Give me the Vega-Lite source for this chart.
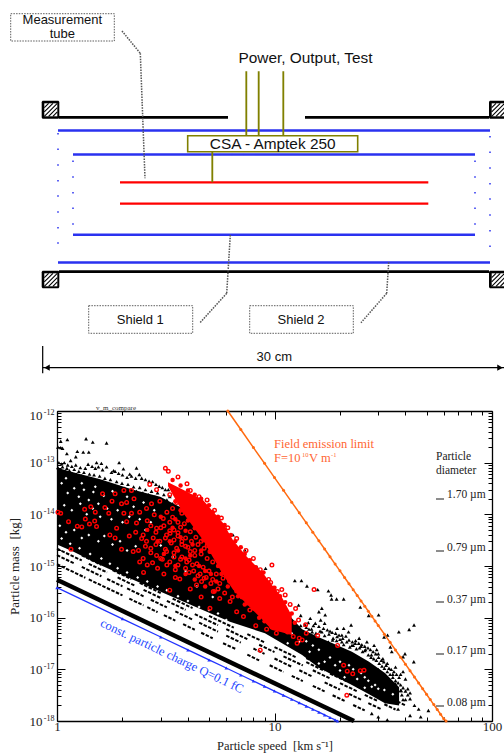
{
"$schema":"https://vega.github.io/schema/vega-lite/v6.json",
"width":504,"height":754,"padding":0,"autosize":{"type":"none"},"background":"white",
"config":{"view":{"stroke":null}},
"datasets":{
"segs":[
{"sx":10.4,"sy":76.25,"sx2":120.25,"sy2":76.25,"kind":"wall"},{"sx":170.3,"sy":76.25,"sx2":289.9,"sy2":76.25,"kind":"wall"},{"sx":10.4,"sy":176.6,"sx2":289.9,"sy2":176.6,"kind":"wall"},
{"sx":9.75,"sy":84.83,"sx2":290.55,"sy2":84.83,"kind":"shield"},{"sx":9.75,"sy":170.6,"sx2":290.55,"sy2":170.6,"kind":"shield"},{"sx":19.5,"sy":100.4,"sx2":280.8,"sy2":100.4,"kind":"shield"},{"sx":19.5,"sy":152.6,"sx2":280.8,"sy2":152.6,"kind":"shield"},
{"sx":50.05,"sy":118.5,"sx2":250.45,"sy2":118.5,"kind":"tube"},{"sx":50.05,"sy":132.4,"sx2":250.45,"sy2":132.4,"kind":"tube"},
{"sx":132.15,"sy":46.35,"sx2":132.15,"sy2":87.75,"kind":"wire"},{"sx":140.2,"sy":46.35,"sx2":140.2,"sy2":87.75,"kind":"wire"},{"sx":156.2,"sy":46.35,"sx2":156.2,"sy2":87.75,"kind":"wire"},{"sx":110.05,"sy":98.6,"sx2":110.05,"sy2":118.5,"kind":"wire"},
{"sx":51.35,"sy":20.15,"sx2":63.25,"sy2":34.65,"kind":"leader"},{"sx":63.25,"sy":34.65,"sx2":66.3,"sy2":115.9,"kind":"leader"},
{"sx":121.75,"sy":152.75,"sx2":119.4,"sy2":190.65,"kind":"leader"},{"sx":119.4,"sy":190.65,"sx2":102.05,"sy2":209.75,"kind":"leader"},
{"sx":224.7,"sy":170.5,"sx2":223.4,"sy2":190.65,"kind":"leader"},{"sx":223.4,"sy":190.65,"sx2":206.7,"sy2":209.75,"kind":"leader"},
{"sx":-0.2,"sy":224.9,"sx2":-0.2,"sy2":242.65,"kind":"dim"},{"sx":-0.2,"sy":239,"sx2":299.65,"sy2":239,"kind":"dim"},
{"sx":255.45,"sy":324.35,"sx2":260.65,"sy2":324.35,"kind":"mark"},{"sx":255.45,"sy":358.15,"sx2":260.65,"sy2":358.15,"kind":"mark"},{"sx":255.45,"sy":391.3,"sx2":260.65,"sy2":391.3,"kind":"mark"},{"sx":255.45,"sy":425.1,"sx2":260.65,"sy2":425.1,"kind":"mark"},{"sx":255.45,"sy":458.9,"sx2":260.65,"sy2":458.9,"kind":"mark"}
],
"hatch":[
{"sx":0.85,"sy":69.95,"sx2":3.65,"sy2":67.15},{"sx":0.85,"sy":72.75,"sx2":6.45,"sy2":67.15},{"sx":0.85,"sy":75.6,"sx2":9.3,"sy2":67.15},{"sx":3.65,"sy":75.6,"sx2":9.3,"sy2":69.95},{"sx":6.45,"sy":75.6,"sx2":9.3,"sy2":72.75},
{"sx":0.85,"sy":180.45,"sx2":3.65,"sy2":177.65},{"sx":0.85,"sy":183.25,"sx2":6.45,"sy2":177.65},{"sx":0.85,"sy":186.1,"sx2":9.3,"sy2":177.65},{"sx":3.65,"sy":186.1,"sx2":9.3,"sy2":180.45},{"sx":6.45,"sy":186.1,"sx2":9.3,"sy2":183.25},
{"sx":291.65,"sy":69.95,"sx2":294.45,"sy2":67.15},{"sx":291.65,"sy":72.75,"sx2":297.25,"sy2":67.15},{"sx":291.65,"sy":75.6,"sx2":300.1,"sy2":67.15},{"sx":294.45,"sy":75.6,"sx2":300.1,"sy2":69.95},{"sx":297.25,"sy":75.6,"sx2":300.1,"sy2":72.75},
{"sx":291.65,"sy":180.45,"sx2":294.45,"sy2":177.65},{"sx":291.65,"sy":183.25,"sx2":297.25,"sy2":177.65},{"sx":291.65,"sy":186.1,"sx2":300.1,"sy2":177.65},{"sx":294.45,"sy":186.1,"sx2":300.1,"sy2":180.45},{"sx":297.25,"sy":186.1,"sx2":300.1,"sy2":183.25}
],
"guard":[
{"sx":9.75,"sy":86.9},{"sx":9.75,"sy":97},{"sx":9.75,"sy":107.25},{"sx":9.75,"sy":117.45},{"sx":9.75,"sy":127.4},{"sx":9.75,"sy":137.8},{"sx":9.75,"sy":148},{"sx":9.75,"sy":157.95},
{"sx":290.55,"sy":88.85},{"sx":290.55,"sy":99},{"sx":290.55,"sy":109.2},{"sx":290.55,"sy":119.4},{"sx":290.55,"sy":129.35},{"sx":290.55,"sy":139.75},{"sx":290.55,"sy":149.95},{"sx":290.55,"sy":160.1},
{"sx":19.5,"sy":104.85},{"sx":19.5,"sy":115.05},{"sx":19.5,"sy":125.25},{"sx":19.5,"sy":135.4},{"sx":19.5,"sy":145.6},
{"sx":280.8,"sy":104.85},{"sx":280.8,"sy":115.05},{"sx":280.8,"sy":125.25},{"sx":280.8,"sy":135.4},{"sx":280.8,"sy":145.6}
],
"blackCore":[
{"v":1,"hi":8e-14,"lo":2.6e-15},{"v":1.185,"hi":6.5e-14,"lo":1.9e-15},{"v":1.58,"hi":4.8e-14,"lo":1.05e-15},{"v":2.24,"hi":3e-14,"lo":5.4e-16},{"v":2.98,"hi":2.2e-14,"lo":3.2e-16},{"v":4.09,"hi":1.1e-14,"lo":1.8e-16},{"v":6.24,"hi":3e-15,"lo":8.3e-17},{"v":9.04,"hi":3.5e-16,"lo":5e-17},{"v":13.4,"hi":6e-17,"lo":1.9e-17},{"v":16,"hi":4.2e-17,"lo":1.07e-17},{"v":22.7,"hi":2.2e-17,"lo":5e-18},{"v":27.2,"hi":1.4e-17,"lo":3.3e-18},{"v":32.2,"hi":8.5e-18,"lo":2.2e-18},{"v":37.4,"hi":4.5e-18,"lo":2e-18}
],
"redCore":[
{"v":3.24,"hi":4.2e-14,"lo":3.5e-14},{"v":3.8,"hi":3e-14,"lo":1.06e-14},{"v":4.69,"hi":1.9e-14,"lo":3.2e-15},{"v":5.8,"hi":6.8e-15,"lo":6.8e-16},{"v":6.44,"hi":3.2e-15,"lo":3.5e-16},{"v":7.48,"hi":1.5e-15,"lo":1.8e-16},{"v":8.85,"hi":7.3e-16,"lo":8.9e-17},{"v":9.73,"hi":4.3e-16,"lo":5.8e-17},{"v":10.8,"hi":2.5e-16,"lo":5.2e-17},{"v":12,"hi":1.1e-16,"lo":4.6e-17}
],
"gaps":[
{"v":1.05,"m":4e-14},{"v":1.12,"m":2.6e-14},{"v":1.2,"m":3.2e-14},{"v":1.26,"m":2.2e-14},{"v":1.33,"m":3e-14},{"v":1.4,"m":1.9e-14},{"v":1.47,"m":2.7e-14},{"v":1.55,"m":1.6e-14},{"v":1.64,"m":2.3e-14},{"v":1.08,"m":1.5e-14},{"v":1.17,"m":1.2e-14},{"v":1.28,"m":1.6e-14},{"v":1.37,"m":1e-14},{"v":1.46,"m":1.3e-14},{"v":1.58,"m":9e-15},{"v":1.7,"m":1.3e-14},{"v":1.78,"m":8e-15},{"v":1.9,"m":1.2e-14},{"v":2,"m":7e-15},{"v":2.15,"m":9e-15},{"v":2.25,"m":1.4e-14},{"v":2.4,"m":8e-15},{"v":2.55,"m":5e-15},{"v":2.7,"m":7e-15},{"v":1.03,"m":6e-15},{"v":1.1,"m":4.5e-15},{"v":1.2,"m":5e-15},{"v":1.3,"m":3.5e-15},{"v":1.4,"m":4e-15},{"v":1.55,"m":3e-15},{"v":1.65,"m":3.8e-15},{"v":1.8,"m":2.6e-15},{"v":1.95,"m":3e-15},{"v":2.1,"m":2e-15},{"v":2.3,"m":2.4e-15},{"v":1.05,"m":3.4e-15},{"v":1.15,"m":2.7e-15},{"v":1.27,"m":2.2e-15},{"v":1.42,"m":1.7e-15},{"v":1.6,"m":1.4e-15},{"v":1.75,"m":1.1e-15},{"v":1.9,"m":9e-16},{"v":2.1,"m":7.5e-16},{"v":2.35,"m":6e-16},{"v":2.6,"m":5e-16},{"v":2.9,"m":4e-16},{"v":3.2,"m":3.4e-16},{"v":3.6,"m":2.6e-16},{"v":4,"m":2.1e-16},{"v":4.5,"m":1.6e-16},{"v":5,"m":1.4e-16},{"v":5.5,"m":1.2e-16},{"v":6,"m":9e-17},{"v":3.4,"m":1.5e-15},{"v":3,"m":2.5e-15},{"v":3.9,"m":8e-16},{"v":4.4,"m":4e-16},{"v":5.2,"m":2.5e-16},
{"v":1.1,"m":5e-14},{"v":1.3,"m":4e-14},{"v":1.5,"m":3.4e-14},{"v":1.8,"m":2.8e-14},{"v":2.1,"m":2.2e-14},{"v":2.5,"m":1.7e-14},{"v":2.8,"m":1.2e-14},
{"v":10,"m":6.3e-17},{"v":12,"m":5e-17},{"v":14,"m":3.5e-17},{"v":16,"m":2.4e-17},{"v":18,"m":1.7e-17},{"v":20,"m":1.4e-17},{"v":23,"m":1e-17},{"v":26,"m":7e-18},{"v":29,"m":5e-18},{"v":32,"m":4e-18},{"v":35,"m":3.3e-18},{"v":14.5,"m":2.2e-17},{"v":17,"m":1.4e-17},{"v":20,"m":9.5e-18},{"v":24,"m":6.5e-18},{"v":28,"m":4.6e-18},{"v":15,"m":2.9e-17},{"v":19,"m":1.2e-17},{"v":22,"m":1.2e-17},{"v":25,"m":8.5e-18},{"v":27,"m":6e-18},{"v":30,"m":4.2e-18},{"v":13,"m":3.4e-17},{"v":11.5,"m":3.2e-17},{"v":16,"m":1.3e-17},{"v":21,"m":7e-18},{"v":26,"m":4.4e-18}
],
"stripes":[
{"s":"a1","v":1,"m":1.08e-15},{"s":"a1","v":1.35,"m":5.93e-16},{"s":"a2","v":1.4,"m":5.5e-16},{"s":"a2","v":2,"m":2.7e-16},{"s":"a3","v":2.15,"m":2.33e-16},{"s":"a3","v":2.5,"m":1.73e-16},{"s":"a4","v":2.6,"m":1.6e-16},{"s":"a4","v":2.9,"m":1.28e-16},{"s":"a5","v":3.1,"m":1.12e-16},{"s":"a5","v":3.5,"m":8.8e-17},{"s":"a6","v":3.8,"m":7.5e-17},{"s":"a6","v":4.3,"m":5.84e-17},{"s":"a7","v":4.6,"m":5.1e-17},{"s":"a7","v":5.2,"m":4e-17},{"s":"a8","v":5.8,"m":3.2e-17},{"s":"a8","v":6.6,"m":2.5e-17},{"s":"a9","v":7.5,"m":1.92e-17},{"s":"a9","v":8.5,"m":1.49e-17},{"s":"a10","v":9.5,"m":1.2e-17},{"s":"a10","v":11,"m":8.9e-18},{"s":"a11","v":12,"m":7.5e-18},{"s":"a11","v":13.5,"m":5.93e-18},{"s":"a12","v":15,"m":4.8e-18},{"s":"a12","v":17,"m":3.74e-18},{"s":"a13","v":18.5,"m":3.15e-18},{"s":"a13","v":21,"m":2.45e-18},{"s":"a14","v":23,"m":2.04e-18},{"s":"a14","v":26,"m":1.6e-18},
{"s":"b1","v":1,"m":1.62e-15},{"s":"b1","v":1.2,"m":1.12e-15},{"s":"b2","v":1.3,"m":9.6e-16},{"s":"b2","v":1.6,"m":6.33e-16},{"s":"b3","v":1.7,"m":5.6e-16},{"s":"b3","v":2,"m":4.05e-16},{"s":"b4","v":2.1,"m":3.68e-16},{"s":"b4","v":2.5,"m":2.59e-16},{"s":"b5","v":2.7,"m":2.22e-16},{"s":"b5","v":3.2,"m":1.58e-16},{"s":"b6","v":3.5,"m":1.32e-16},{"s":"b6","v":4.2,"m":9.2e-17},{"s":"b7","v":4.5,"m":8e-17},{"s":"b7","v":5.5,"m":5.36e-17},{"s":"b8","v":6,"m":4.5e-17},{"s":"b8","v":7,"m":3.3e-17},{"s":"b9","v":8,"m":2.53e-17},{"s":"b9","v":9,"m":1.99e-17},{"s":"b10","v":10,"m":1.62e-17},{"s":"b10","v":12,"m":1.12e-17},{"s":"b11","v":13,"m":9.6e-18},{"s":"b11","v":15,"m":7.2e-18},{"s":"b12","v":17,"m":5.6e-18},{"s":"b12","v":20,"m":4.05e-18},{"s":"b13","v":22,"m":3.35e-18},{"s":"b13","v":25,"m":2.59e-18},{"s":"b14","v":27,"m":2.22e-18},{"s":"b14","v":31,"m":1.69e-18},
{"s":"c1","v":1,"m":2.16e-15},{"s":"c1","v":1.3,"m":1.28e-15},{"s":"c2","v":1.4,"m":1.1e-15},{"s":"c2","v":1.7,"m":7.5e-16},{"s":"c3","v":1.9,"m":6e-16},{"s":"c3","v":2.3,"m":4.08e-16},{"s":"c4","v":2.5,"m":3.46e-16},{"s":"c4","v":3,"m":2.4e-16},{"s":"c5","v":3.2,"m":2.11e-16},{"s":"c5","v":3.9,"m":1.42e-16},{"s":"c6","v":4.3,"m":1.17e-16},{"s":"c6","v":5.5,"m":7.15e-17},{"s":"c7","v":6,"m":6e-17},{"s":"c7","v":7.5,"m":3.84e-17},{"s":"c8","v":8.5,"m":2.99e-17},{"s":"c8","v":10,"m":2.16e-17},{"s":"c9","v":11,"m":1.78e-17},{"s":"c9","v":13.5,"m":1.19e-17},{"s":"c10","v":15,"m":9.6e-18},{"s":"c10","v":18,"m":6.67e-18},{"s":"c11","v":20,"m":5.4e-18},{"s":"c11","v":24,"m":3.76e-18},{"s":"c12","v":26,"m":3.2e-18},{"s":"c12","v":30,"m":2.4e-18},{"s":"c13","v":32,"m":2.11e-18},{"s":"c13","v":36,"m":1.67e-18},
{"s":"d1","v":1.3,"m":1.6e-15},{"s":"d1","v":1.6,"m":1.05e-15},{"s":"d2","v":1.8,"m":8.3e-16},{"s":"d2","v":2.2,"m":5.6e-16},{"s":"d3","v":2.4,"m":4.7e-16},{"s":"d3","v":3,"m":3e-16},{"s":"d4","v":3.4,"m":2.34e-16},{"s":"d4","v":4.2,"m":1.53e-16},{"s":"d5","v":5,"m":1.08e-16},{"s":"d5","v":6.5,"m":6.4e-17},{"s":"d6","v":7.5,"m":4.8e-17},{"s":"d6","v":9,"m":3.33e-17},{"s":"d7","v":10,"m":2.7e-17},{"s":"d7","v":12.5,"m":1.73e-17},{"s":"d8","v":14,"m":1.38e-17},{"s":"d8","v":17,"m":9.3e-18},{"s":"d9","v":18,"m":8.3e-18},{"s":"d9","v":22,"m":5.6e-18},{"s":"d10","v":24,"m":4.7e-18},{"s":"d10","v":28,"m":3.44e-18},{"s":"d11","v":30,"m":3e-18},{"s":"d11","v":34,"m":2.34e-18},
{"s":"e1","v":2,"m":8.1e-16},{"s":"e1","v":2.6,"m":4.8e-16},{"s":"e2","v":3,"m":3.6e-16},{"s":"e2","v":3.8,"m":2.24e-16},{"s":"e3","v":14,"m":1.65e-17},{"s":"e3","v":18,"m":1e-17},{"s":"e4","v":20,"m":8.1e-18},{"s":"e4","v":25,"m":5.2e-18},{"s":"e5","v":27,"m":4.4e-18},{"s":"e5","v":33,"m":3e-18},{"s":"e6","v":35,"m":2.65e-18},{"s":"e6","v":40,"m":2e-18}
],
"blackPts":[
{"v":1.04,"m":2.6e-13},{"v":1.116,"m":2.8e-13},{"v":1.36,"m":2.9e-13},{"v":1.46,"m":2.5e-13},{"v":1.69,"m":2.4e-13},{"v":1.01,"m":2e-13},{"v":1.04,"m":1.95e-13},{"v":1.06,"m":1.9e-13},{"v":1.11,"m":1.5e-13},{"v":1.24,"m":1.65e-13},{"v":1.22,"m":1.3e-13},{"v":1.155,"m":1.1e-13},{"v":1.32,"m":1.6e-13},{"v":1.4,"m":1.6e-13},{"v":1.39,"m":9.3e-14},{"v":1.52,"m":1e-13},{"v":1.6,"m":9.7e-14},{"v":1.93,"m":1e-13},{"v":2.32,"m":7.9e-14},{"v":2.02,"m":7.6e-14},{"v":1.82,"m":7e-14},{"v":1.69,"m":8.3e-14},{"v":2.16,"m":6e-14},{"v":2.39,"m":5.9e-14},
{"v":1.02,"m":1e-13},{"v":1.05,"m":9.5e-14},{"v":1.08,"m":1e-13},{"v":1.12,"m":9e-14},{"v":1.17,"m":8.5e-14},{"v":1.22,"m":9e-14},{"v":1.28,"m":8e-14},{"v":1.35,"m":7.8e-14},{"v":1.45,"m":8.5e-14},{"v":1.5,"m":7.8e-14},{"v":1.55,"m":8.3e-14},{"v":1.62,"m":7.3e-14},{"v":1.78,"m":6.5e-14},{"v":1.85,"m":6.8e-14},{"v":1.92,"m":6.2e-14},{"v":2,"m":5.8e-14},{"v":2.1,"m":5.2e-14},{"v":2.2,"m":5.5e-14},{"v":2.3,"m":5e-14},{"v":2.45,"m":5e-14},{"v":2.55,"m":4.7e-14},{"v":2.65,"m":4.4e-14},{"v":2.75,"m":4.3e-14},{"v":2.85,"m":3.8e-14},{"v":2.95,"m":3.5e-14},{"v":3.05,"m":3.3e-14},{"v":3.15,"m":3e-14},{"v":3.25,"m":3e-14},
{"v":1.01,"m":8e-14},{"v":1.03,"m":7e-14},{"v":1.06,"m":8.3e-14},{"v":1.09,"m":6.8e-14},{"v":1.11,"m":7.8e-14},{"v":1.14,"m":7e-14},{"v":1.17,"m":6.2e-14},{"v":1.2,"m":7.4e-14},{"v":1.23,"m":6e-14},{"v":1.26,"m":6.8e-14},{"v":1.3,"m":5.6e-14},{"v":1.33,"m":6.5e-14},{"v":1.37,"m":5.2e-14},{"v":1.41,"m":6e-14},{"v":1.44,"m":5e-14},{"v":1.48,"m":5.8e-14},{"v":1.53,"m":4.6e-14},{"v":1.57,"m":5.5e-14},{"v":1.62,"m":4.4e-14},{"v":1.66,"m":5e-14},{"v":1.72,"m":3.9e-14},{"v":1.76,"m":4.7e-14},{"v":1.82,"m":3.6e-14},{"v":1.88,"m":4.3e-14},{"v":1.93,"m":3.4e-14},{"v":1.99,"m":4e-14},{"v":2.05,"m":3.2e-14},{"v":2.12,"m":3.8e-14},{"v":2.18,"m":3e-14},{"v":2.25,"m":3.4e-14},{"v":2.32,"m":2.8e-14},{"v":2.4,"m":3.3e-14},{"v":2.48,"m":2.6e-14},{"v":2.55,"m":3e-14},{"v":2.63,"m":2.4e-14},{"v":2.72,"m":2.8e-14},{"v":2.82,"m":2.2e-14},{"v":2.9,"m":2.6e-14},{"v":3,"m":2e-14},{"v":3.1,"m":2.4e-14},{"v":3.2,"m":1.9e-14},{"v":3.3,"m":2.2e-14},{"v":3.4,"m":1.6e-14},
{"v":6.44,"m":4e-15},{"v":7.3,"m":2.05e-15},{"v":8.3,"m":9.6e-16},{"v":9.1,"m":9e-16},
{"v":12.4,"m":5.2e-16},{"v":13.3,"m":5.2e-16},{"v":14.1,"m":4.1e-16},{"v":15.8,"m":3.5e-16},{"v":17.7,"m":3.3e-16},{"v":18.2,"m":2.75e-16},{"v":18.3,"m":2.3e-16},{"v":19.3,"m":2.3e-16},{"v":20.8,"m":2.3e-16},{"v":24.8,"m":1.6e-16},{"v":27.1,"m":1.1e-16},{"v":30.1,"m":1.13e-16},{"v":16.5,"m":1.52e-16},{"v":17.1,"m":1.13e-16},{"v":16,"m":1.3e-16},{"v":12.9,"m":1.75e-16},{"v":14.6,"m":9.7e-17},{"v":16.3,"m":9e-17},{"v":17,"m":7.8e-17},{"v":15.4,"m":7.8e-17},{"v":13.8,"m":7.3e-17},{"v":19.4,"m":6.2e-17},{"v":20.8,"m":6.2e-17},{"v":22.5,"m":7.2e-17},{"v":20.4,"m":4.6e-17},{"v":21.9,"m":5.3e-17},{"v":24.5,"m":4e-17},{"v":26.6,"m":3.4e-17},{"v":28.7,"m":2.9e-17},{"v":31.9,"m":4.2e-17},{"v":33.1,"m":4.6e-17},{"v":34.1,"m":2.7e-17},{"v":37.3,"m":5.3e-17},{"v":41.6,"m":5.9e-17},{"v":43.8,"m":7.2e-17},{"v":39.8,"m":2e-17},{"v":39,"m":1.75e-17},{"v":43.7,"m":1.4e-17},{"v":34.6,"m":2.2e-17},{"v":30,"m":2e-17},{"v":27.9,"m":1.9e-17},{"v":26,"m":2.3e-17},{"v":22.7,"m":2.9e-17},{"v":20.4,"m":3.4e-17},{"v":18.5,"m":3.7e-17},{"v":19.4,"m":4.3e-17},{"v":39,"m":9e-18},{"v":41,"m":4.2e-18},{"v":42,"m":2.7e-18},{"v":46,"m":1.7e-18},{"v":51,"m":1.6e-18},{"v":47,"m":1.2e-18},{"v":42,"m":1.28e-18},{"v":37,"m":1.7e-18},{"v":33,"m":1.05e-18},{"v":30,"m":1.2e-18},{"v":28,"m":1.4e-18},{"v":36,"m":5.2e-18},{"v":38,"m":3.9e-18},{"v":32,"m":6.5e-18},{"v":17.7,"m":3.4e-17},{"v":16.5,"m":5.3e-17},{"v":14.9,"m":5.3e-17},
{"v":11.5,"m":1.2e-16},{"v":13.2,"m":1.1e-16},{"v":14.4,"m":6e-17},{"v":18,"m":5.5e-17},{"v":23.5,"m":3.2e-17},{"v":25,"m":2.8e-17},{"v":29.5,"m":2.4e-17},{"v":31.5,"m":1.6e-17},{"v":33,"m":1.3e-17},{"v":36,"m":1.1e-17},{"v":38,"m":8e-18},{"v":40,"m":6.5e-18},{"v":35,"m":8e-18},{"v":30,"m":1e-17},{"v":42,"m":3.5e-18},{"v":39,"m":2.6e-18},{"v":44,"m":2e-18},
{"v":13.2,"m":7e-17},{"v":14,"m":6.5e-17},{"v":14.8,"m":6e-17},{"v":15.5,"m":5e-17},{"v":16.2,"m":5.5e-17},{"v":17,"m":4.5e-17},{"v":17.8,"m":4.8e-17},{"v":18.6,"m":4e-17},{"v":19.3,"m":3.6e-17},{"v":20,"m":3.8e-17},{"v":20.8,"m":3e-17},{"v":21.5,"m":3.4e-17},{"v":22.2,"m":2.7e-17},{"v":23,"m":2.9e-17},{"v":23.8,"m":2.5e-17},{"v":24.6,"m":2.6e-17},{"v":25.4,"m":2.2e-17},{"v":26.2,"m":2.4e-17},{"v":27,"m":1.9e-17},{"v":27.8,"m":1.7e-17},{"v":28.6,"m":1.6e-17},{"v":29.4,"m":1.5e-17},{"v":30.3,"m":1.3e-17},{"v":31.2,"m":1.15e-17},{"v":32,"m":1.05e-17},{"v":33,"m":9e-18},{"v":34,"m":8e-18},{"v":35,"m":7e-18},{"v":36,"m":6e-18},{"v":37,"m":5.5e-18},{"v":38,"m":5e-18},{"v":39,"m":4.4e-18},{"v":40,"m":3.8e-18},{"v":41,"m":3.2e-18},{"v":38.5,"m":3.2e-18},{"v":40,"m":2.6e-18},
{"v":14.3,"m":8e-17},{"v":15.1,"m":7e-17},{"v":16,"m":6.8e-17},{"v":16.8,"m":6.2e-17},{"v":17.5,"m":5.8e-17},{"v":18.4,"m":5.2e-17},{"v":19.1,"m":5e-17},{"v":19.8,"m":4.6e-17},{"v":20.6,"m":4e-17},{"v":21.3,"m":4.4e-17},{"v":22,"m":3.7e-17},{"v":22.8,"m":3.4e-17},{"v":23.6,"m":3.6e-17},{"v":24.4,"m":3.2e-17},{"v":25.2,"m":3e-17},{"v":26,"m":2.8e-17},{"v":26.9,"m":2.6e-17},{"v":27.6,"m":2.4e-17},{"v":28.4,"m":2.2e-17},{"v":29.2,"m":2e-17},{"v":30.1,"m":1.7e-17},{"v":31,"m":1.5e-17},{"v":31.8,"m":1.4e-17},{"v":32.6,"m":1.2e-17},{"v":33.6,"m":1.05e-17},{"v":34.4,"m":1e-17},{"v":35.4,"m":9e-18},{"v":36.4,"m":8e-18},{"v":37.4,"m":7e-18},{"v":38.2,"m":3.9e-18}
],
"redBlobs":[
{"v":3.3,"m":3e-15},{"v":3.6,"m":2e-15},{"v":3.9,"m":1.4e-15},{"v":4.1,"m":1.6e-15},{"v":4.5,"m":1e-15},{"v":4.8,"m":8e-16},{"v":5.1,"m":7e-16},{"v":5.4,"m":5e-16},{"v":3.4,"m":5.5e-15},{"v":3.7,"m":3.6e-15},{"v":4.2,"m":2.6e-15},{"v":4.6,"m":2e-15},{"v":3.1,"m":1.7e-15},{"v":3.5,"m":1e-15},{"v":3.9,"m":7e-16},{"v":4.3,"m":5.5e-16},{"v":4.8,"m":4e-16},{"v":5.3,"m":3.2e-16},{"v":2.9,"m":3e-15},{"v":2.6,"m":5e-15},{"v":3,"m":9e-15},{"v":3.5,"m":8e-15},{"v":3.9,"m":4.8e-15},{"v":5.7,"m":7e-16},{"v":6.1,"m":4e-16},{"v":6.8,"m":2.6e-16},{"v":7.3,"m":1.8e-16},
{"v":3.4,"m":4.6e-14},{"v":3.7,"m":3.6e-14},{"v":4,"m":2.9e-14},{"v":4.3,"m":2.4e-14},{"v":4.6,"m":2e-14},{"v":5,"m":1.5e-14},{"v":5.2,"m":1.1e-14},{"v":5.5,"m":9e-15},{"v":5.9,"m":6.2e-15},{"v":6.3,"m":4e-15},{"v":6.6,"m":3e-15},{"v":7,"m":2.3e-15},{"v":7.3,"m":1.7e-15},{"v":7.7,"m":1.3e-15},{"v":8.2,"m":9.5e-16},{"v":8.9,"m":7.5e-16},{"v":9.4,"m":4.6e-16},{"v":10,"m":3.8e-16},{"v":10.6,"m":2.6e-16},{"v":11.2,"m":2e-16},{"v":12,"m":1.2e-16},{"v":12.4,"m":8e-17},
{"v":3.5,"m":1.8e-14},{"v":3.7,"m":1.2e-14},{"v":4,"m":7.6e-15},{"v":4.3,"m":5.4e-15},{"v":4.7,"m":3.2e-15},{"v":5.1,"m":1.9e-15},{"v":5.5,"m":1e-15},{"v":5.8,"m":8e-16},{"v":6.2,"m":5e-16},{"v":6.6,"m":3.8e-16},{"v":7,"m":2.8e-16},{"v":7.5,"m":1.9e-16},{"v":8,"m":1.5e-16},{"v":8.5,"m":1e-16},{"v":9,"m":8.5e-17},{"v":9.7,"m":6.5e-17}
],
"redPts":[
{"v":1.01,"m":1.1e-14},{"v":1.04,"m":1.05e-14},{"v":1.13,"m":7.2e-15},{"v":1.16,"m":2.1e-15},{"v":1.24,"m":5.9e-15},{"v":1.3,"m":5.7e-15},{"v":1.34,"m":1.25e-14},{"v":1.35,"m":8.1e-15},{"v":1.43,"m":1.4e-14},{"v":1.41,"m":6.5e-15},{"v":1.5,"m":1.1e-14},{"v":1.49,"m":7.4e-15},{"v":1.52,"m":5.8e-15},{"v":1.62,"m":2.5e-14},{"v":1.66,"m":1.35e-14},{"v":1.73,"m":1.05e-14},{"v":1.85,"m":2.5e-14},{"v":1.79,"m":1.8e-14},{"v":1.88,"m":5.4e-15},{"v":1.75,"m":4e-15},{"v":2.03,"m":2.9e-14},{"v":2.2,"m":2.9e-14},{"v":1.98,"m":1.6e-14},{"v":2.09,"m":1.7e-14},{"v":2.26,"m":2e-14},{"v":2.03,"m":1.05e-14},{"v":2.09,"m":7.2e-15},{"v":2.2,"m":1.05e-14},{"v":2.32,"m":6.8e-15},{"v":2.4,"m":1.1e-14},{"v":2.58,"m":1.3e-14},{"v":2.67,"m":3.8e-14},{"v":2.87,"m":3e-14},{"v":2.72,"m":1.6e-14},{"v":2.97,"m":1.8e-14},{"v":2.8,"m":9.8e-15},{"v":3.08,"m":8.3e-15},{"v":2.49,"m":4e-15},{"v":2.58,"m":3e-15},{"v":2.77,"m":3.5e-15},{"v":2.97,"m":3e-15},{"v":3.19,"m":4e-15},{"v":2.87,"m":5.4e-15},{"v":2.37,"m":2e-15},{"v":1.98,"m":2.1e-15},{"v":1.85,"m":3.5e-15},{"v":2.24,"m":1.9e-15},{"v":2.49,"m":1.4e-15},{"v":2.87,"m":1.6e-15},{"v":3.19,"m":1.9e-15},{"v":3.31,"m":4.3e-15},
{"v":3.67,"m":5.6e-16},{"v":4.38,"m":4.3e-16},{"v":4.62,"m":5e-16},{"v":5.05,"m":1.52e-16},{"v":5.23,"m":3.2e-16},{"v":5.6,"m":2.35e-16},{"v":6.25,"m":2.05e-16},{"v":6.7,"m":1.3e-16},{"v":7.7,"m":1.4e-16},{"v":3.3,"m":3.4e-16},{"v":8.6,"m":2.35e-17},
{"v":3.1,"m":6e-15},{"v":3.3,"m":7e-15},{"v":3.45,"m":5e-15},{"v":3.6,"m":3.8e-15},{"v":3.35,"m":2.8e-15},{"v":3.55,"m":2.2e-15},{"v":3.75,"m":3e-15},{"v":3.9,"m":2.4e-15},{"v":4.1,"m":1.9e-15},{"v":4.3,"m":1.6e-15},{"v":3.45,"m":1.5e-15},{"v":3.7,"m":1.35e-15},{"v":3.95,"m":1.2e-15},{"v":4.2,"m":1.05e-15},{"v":3.2,"m":1.05e-15},{"v":3.5,"m":8.5e-16},{"v":3.05,"m":1.35e-15},{"v":2.7,"m":2.2e-15},{"v":2.6,"m":1.05e-15},{"v":4.05,"m":7.5e-16},{"v":4.45,"m":6.5e-16},{"v":4.75,"m":5.8e-16},{"v":5.1,"m":4.6e-16},{"v":5.5,"m":3.6e-16},{"v":5.9,"m":3e-16},{"v":6.4,"m":2.5e-16},{"v":3.75,"m":1.05e-14},{"v":3.4,"m":1.3e-14},{"v":3.55,"m":1.7e-14},{"v":3.3,"m":2.4e-14},
{"v":3.15,"m":7.8e-14},{"v":3.25,"m":6.8e-14},{"v":3.6,"m":5.3e-14},{"v":3.96,"m":3.9e-14},{"v":4.1,"m":2.9e-14},{"v":4.5,"m":2.2e-14},{"v":4.9,"m":1.9e-14},{"v":5.3,"m":1.2e-14},{"v":5.7,"m":8.5e-15},{"v":6.1,"m":5.5e-15},{"v":6.7,"m":3.4e-15},{"v":7.4,"m":2e-15},{"v":8,"m":1.4e-15},{"v":8.6,"m":8.5e-16},{"v":9.73,"m":1.04e-15},{"v":9.4,"m":5.5e-16},
{"v":2.7,"m":6e-15},{"v":2.85,"m":4.5e-15},{"v":3,"m":5.5e-15},{"v":3.15,"m":3.5e-15},{"v":3.3,"m":4.8e-15},{"v":3.45,"m":3.2e-15},{"v":3.6,"m":4.4e-15},{"v":3.75,"m":2.6e-15},{"v":3.9,"m":3.5e-15},{"v":4,"m":2.3e-15},{"v":4.15,"m":3e-15},{"v":4.3,"m":2e-15},{"v":4.45,"m":2.6e-15},{"v":4.6,"m":1.7e-15},{"v":4.75,"m":2.2e-15},{"v":4.9,"m":1.4e-15},{"v":5.05,"m":1.9e-15},{"v":5.2,"m":1.2e-15},{"v":2.55,"m":2.4e-15},{"v":2.7,"m":1.8e-15},{"v":2.85,"m":2.6e-15},{"v":3,"m":1.4e-15},{"v":3.15,"m":2.1e-15},{"v":3.3,"m":1.2e-15},{"v":3.45,"m":1.8e-15},{"v":3.6,"m":1.05e-15},{"v":3.75,"m":1.5e-15},{"v":3.9,"m":9e-16},{"v":4.05,"m":1.3e-15},{"v":4.25,"m":8e-16},{"v":4.4,"m":1.1e-15},{"v":4.55,"m":7e-16},{"v":4.7,"m":9.5e-16},{"v":4.85,"m":6e-16},{"v":5,"m":8e-16},{"v":5.2,"m":5.5e-16},{"v":5.4,"m":7e-16},{"v":5.6,"m":4.6e-16},{"v":5.8,"m":5.8e-16},{"v":2.45,"m":3.4e-15},{"v":2.3,"m":4.5e-15},{"v":2.15,"m":3.8e-15},{"v":2.6,"m":7.5e-15},{"v":3.2,"m":1.1e-14},{"v":3.4,"m":8.8e-15},{"v":3.6,"m":7e-15},{"v":3.7,"m":5.6e-15},{"v":3.85,"m":6.6e-15},{"v":4.1,"m":4.6e-15},{"v":4.35,"m":3.6e-15},{"v":4.6,"m":3e-15},{"v":4.9,"m":2.5e-15},{"v":5.3,"m":1.7e-15},{"v":5.6,"m":1.1e-15},{"v":6,"m":7e-16},{"v":6.3,"m":5e-16},{"v":6.7,"m":3.3e-16},{"v":7.1,"m":2.5e-16},{"v":7.5,"m":2e-16},{"v":4.1,"m":3.6e-16},{"v":4.6,"m":2.5e-16},{"v":3.5,"m":6e-16},{"v":2.9,"m":9e-16},{"v":2.5,"m":7.5e-16},{"v":3.1,"m":7e-16},{"v":2.75,"m":1.15e-15},{"v":2.4,"m":1.2e-15},
{"v":15.2,"m":3.5e-16},{"v":9.6,"m":4.8e-16},{"v":10.8,"m":3.5e-16},{"v":9.9,"m":3.7e-16},{"v":10.3,"m":3.2e-16},{"v":11.8,"m":1.8e-16},{"v":12.5,"m":1.5e-16},{"v":12.9,"m":9e-17},{"v":13.9,"m":7.3e-17},{"v":14,"m":5e-17},{"v":15.8,"m":4.5e-17},{"v":12.7,"m":3.2e-17},{"v":13.4,"m":3.7e-17},{"v":12.2,"m":4.3e-17},{"v":11.5,"m":5.3e-17},{"v":19.5,"m":2.9e-17},{"v":20.8,"m":1.2e-17},{"v":21.6,"m":9.2e-18},{"v":22.9,"m":8.2e-18},{"v":24.8,"m":9.4e-18},{"v":25.8,"m":9.6e-18},{"v":21.5,"m":3.15e-18},{"v":11.2,"m":2.75e-16},{"v":9.2,"m":6e-17},{"v":10.2,"m":5e-17},{"v":8.2,"m":7e-17},{"v":7.2,"m":1.05e-16},{"v":13,"m":4e-17}
],
"baseLine":[{"v":1,"m":5.4e-16},{"v":23.2,"m":1e-18}],
"blueLine":[{"v":1,"m":3.8e-16},{"v":2,"m":9.5e-17},{"v":3,"m":4.22e-17},{"v":4,"m":2.38e-17},{"v":5,"m":1.52e-17},{"v":6,"m":1.06e-17},{"v":7,"m":7.76e-18},{"v":8,"m":5.94e-18},{"v":9,"m":4.69e-18},{"v":10,"m":3.8e-18},{"v":11,"m":3.14e-18},{"v":12,"m":2.64e-18},{"v":13,"m":2.25e-18},{"v":14,"m":1.94e-18},{"v":15,"m":1.69e-18},{"v":16,"m":1.48e-18},{"v":17,"m":1.31e-18},{"v":18,"m":1.17e-18},{"v":19,"m":1.05e-18},{"v":19.5,"m":1e-18}],
"orangeLine":[{"v":6.1,"m":1e-12},{"v":7,"m":4.38e-13},{"v":8,"m":1.96e-13},{"v":9,"m":9.7e-14},{"v":10,"m":5.15e-14},{"v":11,"m":2.91e-14},{"v":12,"m":1.72e-14},{"v":13,"m":1.07e-14},{"v":14,"m":6.84e-15},{"v":15,"m":4.52e-15},{"v":16,"m":3.07e-15},{"v":17,"m":2.13e-15},{"v":18,"m":1.51e-15},{"v":19,"m":1.09e-15},{"v":20,"m":8.05e-16},{"v":21,"m":6e-16},{"v":22,"m":4.54e-16},{"v":23,"m":3.48e-16},{"v":24,"m":2.69e-16},{"v":25,"m":2.11e-16},{"v":26,"m":1.67e-16},{"v":27,"m":1.33e-16},{"v":28,"m":1.07e-16},{"v":29,"m":8.66e-17},{"v":30,"m":7.06e-17},{"v":32,"m":4.8e-17},{"v":34,"m":3.33e-17},{"v":36,"m":2.37e-17},{"v":38,"m":1.71e-17},{"v":40,"m":1.26e-17},{"v":42,"m":9.38e-18},{"v":44,"m":7.1e-18},{"v":46,"m":5.44e-18},{"v":48,"m":4.21e-18},{"v":50,"m":3.3e-18},{"v":52,"m":2.6e-18},{"v":54,"m":2.08e-18},{"v":56,"m":1.67e-18},{"v":58,"m":1.35e-18},{"v":60,"m":1.1e-18},{"v":61.5,"m":1e-18}],
"corner":[{"v":1,"m":1e-12}]
},
"resolve":{"scale":{"x":"independent","y":"independent"},"axis":{"x":"independent","y":"independent"}},
"layer":[
{
"encoding":{
"x":{"field":"v","type":"quantitative","scale":{"type":"log","domain":[1,100],"range":[57,492],"nice":false},
"axis":{"orient":"bottom","offset":-33,"values":[1,2,3,4,5,6,7,8,9,10,20,30,40,50,60,70,80,90,100],"grid":false,"labelOverlap":false,"labelFlush":false,"labelFont":"Liberation Serif","labelFontSize":13,"labelColor":"#222","labelPadding":7,
"labelExpr":"abs(log(datum.value)/LN10-round(log(datum.value)/LN10))<0.001 ? format(datum.value,'d') : ''",
"tickColor":"black","tickWidth":1,"domainColor":"black","domainWidth":1.3,
"tickSize":{"condition":{"test":"abs(log(datum.value)/LN10-round(log(datum.value)/LN10))<0.001","value":-8},"value":-4},
"title":"Particle speed\u00a0\u00a0[km s\u207b\u00b9]","titleFont":"Liberation Serif","titleFontSize":12.5,"titleFontWeight":"normal","titleColor":"#222","titlePadding":2}},
"y":{"field":"m","type":"quantitative","scale":{"type":"log","domain":[1e-18,1e-12],"range":[721,411],"nice":false},
"axis":{"orient":"left","offset":-57,"values":[1e-18,2e-18,3e-18,4e-18,5e-18,6e-18,7e-18,8e-18,9e-18,1e-17,2e-17,3e-17,4e-17,5e-17,6e-17,7e-17,8e-17,9e-17,1e-16,2e-16,3e-16,4e-16,5e-16,6e-16,7e-16,8e-16,9e-16,1e-15,2e-15,3e-15,4e-15,5e-15,6e-15,7e-15,8e-15,9e-15,1e-14,2e-14,3e-14,4e-14,5e-14,6e-14,7e-14,8e-14,9e-14,1e-13,2e-13,3e-13,4e-13,5e-13,6e-13,7e-13,8e-13,9e-13,1e-12],"grid":false,"labelOverlap":false,"labelFlush":false,"labelFont":"Liberation Serif","labelFontSize":13,"labelColor":"#222","labelPadding":23,
"labelExpr":"abs(log(datum.value)/LN10-round(log(datum.value)/LN10))<0.001 ? '10' : ''",
"labelOffset":{"condition":{"test":"datum.value>5e-13","value":4},"value":0},
"tickColor":"black","tickWidth":1,"domainColor":"black","domainWidth":1.3,
"tickSize":{"condition":{"test":"abs(log(datum.value)/LN10-round(log(datum.value)/LN10))<0.001","value":-8},"value":-4},
"title":"Particle mass\u00a0\u00a0[kg]","titleFont":"Liberation Serif","titleFontSize":13,"titleFontWeight":"normal","titleColor":"#222","titleX":-36}}
},
"layer":[
{"data":{"name":"blackCore"},"mark":{"type":"area","color":"black","orient":"vertical"},"encoding":{"y":{"field":"hi","type":"quantitative"},"y2":{"field":"lo"}}},
{"data":{"name":"stripes"},"mark":{"type":"line","color":"black","strokeWidth":2,"strokeDash":[3.5,1.5]},"encoding":{"detail":{"field":"s"}}},
{"data":{"name":"baseLine"},"mark":{"type":"line","color":"black","strokeWidth":4.5}},
{"data":{"name":"blueLine"},"mark":{"type":"line","color":"#2233ff","strokeWidth":1.3}},
{"data":{"name":"blueLine"},"mark":{"type":"point","shape":"triangle-up","filled":true,"color":"#2233ff","size":12,"opacity":1}},
{"data":{"name":"gaps"},"mark":{"type":"point","shape":"diamond","filled":true,"color":"white","size":9,"opacity":1}},
{"data":{"name":"blackPts"},"mark":{"type":"point","shape":"triangle-up","filled":true,"color":"black","size":15,"opacity":1}},
{"data":{"name":"orangeLine"},"mark":{"type":"line","color":"#ff6a10","strokeWidth":1.5}},
{"data":{"name":"orangeLine"},"mark":{"type":"point","shape":"circle","filled":true,"color":"#ff6a10","size":9,"opacity":1}},
{"data":{"name":"redCore"},"mark":{"type":"area","color":"#ff0000","orient":"vertical"},"encoding":{"y":{"field":"hi","type":"quantitative"},"y2":{"field":"lo"}}},
{"data":{"name":"redBlobs"},"mark":{"type":"point","shape":"circle","filled":true,"color":"#ff0000","size":20,"opacity":1}},
{"data":{"name":"redPts"},"mark":{"type":"point","shape":"circle","filled":false,"color":"#ff0000","strokeWidth":1.4,"size":13,"opacity":1}}
]
},
{
"data":{"name":"corner"},
"mark":{"type":"point","opacity":0},
"encoding":{
"x":{"field":"v","type":"quantitative","scale":{"type":"log","domain":[1,100],"range":[57,492],"nice":false},
"axis":{"orient":"top","offset":-411,"values":[1,2,3,4,5,6,7,8,9,10,20,30,40,50,60,70,80,90,100],"grid":false,"labels":false,"title":null,"tickColor":"black","tickWidth":1,"domainColor":"black","domainWidth":1.3,
"tickSize":{"condition":{"test":"abs(log(datum.value)/LN10-round(log(datum.value)/LN10))<0.001","value":-8},"value":-4}}},
"y":{"field":"m","type":"quantitative","scale":{"type":"log","domain":[1e-18,1e-12],"range":[721,411],"nice":false},
"axis":{"orient":"right","offset":-12,"values":[1e-18,2e-18,3e-18,4e-18,5e-18,6e-18,7e-18,8e-18,9e-18,1e-17,2e-17,3e-17,4e-17,5e-17,6e-17,7e-17,8e-17,9e-17,1e-16,2e-16,3e-16,4e-16,5e-16,6e-16,7e-16,8e-16,9e-16,1e-15,2e-15,3e-15,4e-15,5e-15,6e-15,7e-15,8e-15,9e-15,1e-14,2e-14,3e-14,4e-14,5e-14,6e-14,7e-14,8e-14,9e-14,1e-13,2e-13,3e-13,4e-13,5e-13,6e-13,7e-13,8e-13,9e-13,1e-12],"grid":false,"labels":false,"title":null,"tickColor":"black","tickWidth":1,"domainColor":"black","domainWidth":1.3,
"tickSize":{"condition":{"test":"abs(log(datum.value)/LN10-round(log(datum.value)/LN10))<0.001","value":-8},"value":-4}}}
}
},
{
"data":{"name":"corner"},
"mark":{"type":"point","opacity":0},
"encoding":{
"x":{"field":"v","type":"quantitative","scale":{"type":"log","domain":[1,100],"range":[57,492],"nice":false},"axis":null},
"y":{"field":"m","type":"quantitative","scale":{"type":"log","domain":[1e-18,1e-12],"range":[721,411],"nice":false},
"axis":{"orient":"left","offset":-57,"values":[1e-18,1e-17,1e-16,1e-15,1e-14,1e-13,1e-12],"grid":false,"domain":false,"ticks":false,"title":null,"labelOverlap":false,"labelFlush":false,"labelFont":"Liberation Serif","labelFontSize":8,"labelColor":"#222","labelPadding":3,
"labelOffset":{"condition":{"test":"datum.value>5e-13","value":1},"value":-3},
"labelExpr":"''+round(log(datum.value)/LN10)"}}
}
},
{
"encoding":{
"x":{"field":"sx","type":"quantitative","scale":{"domain":[-27.95,299.65],"range":[0,504],"nice":false,"zero":false},"axis":null},
"y":{"field":"sy","type":"quantitative","scale":{"domain":[0,490.1],"range":[0,754],"nice":false,"zero":false},"axis":null}
},
"layer":[
{"data":{"values":[{"sx":-0.85,"sy":65.45,"sx2":10.6,"sy2":77.15},{"sx":-0.85,"sy":175.95,"sx2":10.6,"sy2":187.4},{"sx":289.9,"sy":65.45,"sx2":300.95,"sy2":77.15},{"sx":289.9,"sy":175.95,"sx2":300.95,"sy2":187.4}]},"mark":{"type":"rect","color":"black","cornerRadius":1.5},"encoding":{"x2":{"field":"sx2"},"y2":{"field":"sy2"}}},
{"data":{"values":[{"sx":0.85,"sy":67.15,"sx2":9.3,"sy2":75.6},{"sx":0.85,"sy":177.65,"sx2":9.3,"sy2":186.1},{"sx":291.65,"sy":67.15,"sx2":300.1,"sy2":75.6},{"sx":291.65,"sy":177.65,"sx2":300.1,"sy2":186.1}]},"mark":{"type":"rect","color":"white"},"encoding":{"x2":{"field":"sx2"},"y2":{"field":"sy2"}}},
{"data":{"name":"hatch"},"mark":{"type":"rule","color":"black","strokeWidth":1.1},"encoding":{"x2":{"field":"sx2"},"y2":{"field":"sy2"}}},
{"data":{"name":"segs"},"mark":{"type":"rule"},"encoding":{"x2":{"field":"sx2"},"y2":{"field":"sy2"},
"color":{"field":"kind","type":"nominal","legend":null,"scale":{"domain":["wall","shield","tube","wire","leader","dim","mark"],"range":["#000000","#2a32f0","#ff0000","#808000","#555555","#000000","#000000"]}},
"strokeWidth":{"field":"kind","type":"nominal","legend":null,"scale":{"domain":["wall","shield","tube","wire","leader","dim","mark"],"range":[2.8,0.9,2,1.4,0.7,1,1.5]}},
"strokeDash":{"field":"kind","type":"nominal","legend":null,"scale":{"domain":["wall","shield","tube","wire","leader","dim","mark"],"range":[[1,0],[1,0],[1,0],[1,0],[1.5,1.2],[1,0],[1,0]]}}}},
{"data":{"values":[{"sx":94.05,"sy":88.2,"sx2":204.55,"sy2":98.6}]},"mark":{"type":"rect","fill":"white","stroke":"#808000","strokeWidth":1.6},"encoding":{"x2":{"field":"sx2"},"y2":{"field":"sy2"}}},
{"data":{"values":[{"sx":-21,"sy":8.9,"sx2":46.35,"sy2":26.65},{"sx":29.7,"sy":198.7,"sx2":97.3,"sy2":216.65},{"sx":134.35,"sy":198.7,"sx2":201.7,"sy2":216.65}]},"mark":{"type":"rect","fill":null,"stroke":"#333","strokeWidth":0.8,"strokeDash":[1.5,1.2]},"encoding":{"x2":{"field":"sx2"},"y2":{"field":"sy2"}}},
{"data":{"name":"guard"},"mark":{"type":"point","shape":"square","filled":true,"color":"#1a22ee","size":2,"opacity":1}},
{"data":{"values":[{"sx":2.6,"sy":239}]},"mark":{"type":"point","shape":"triangle-left","filled":true,"color":"black","size":40,"opacity":1}},
{"data":{"values":[{"sx":297.05,"sy":239}]},"mark":{"type":"point","shape":"triangle-right","filled":true,"color":"black","size":40,"opacity":1}},
{"data":{"values":[{"sx":12.55,"sy":13,"t":"Measurement"},{"sx":12.55,"sy":22.3,"t":"tube"},{"sx":63.25,"sy":208,"t":"Shield 1"},{"sx":167.7,"sy":208,"t":"Shield 2"},{"sx":150.35,"sy":231.85,"t":"30 cm"}]},"mark":{"type":"text","font":"Liberation Sans","fontSize":13,"color":"#111","align":"center","baseline":"middle"},"encoding":{"text":{"field":"t"}}},
{"data":{"values":[{"sx":170.6,"sy":37.5,"t":"Power, Output, Test"},{"sx":149.3,"sy":93.6,"t":"CSA - Amptek 250"}]},"mark":{"type":"text","font":"Liberation Sans","fontSize":15.4,"color":"#111","align":"center","baseline":"middle"},"encoding":{"text":{"field":"t"}}},
{"data":{"values":[{"sx":34.45,"sy":265,"t":"v_m_compare"}]},"mark":{"type":"text","font":"Liberation Serif","fontSize":7,"color":"#333","align":"left","baseline":"middle"},"encoding":{"text":{"field":"t"}}},
{"data":{"values":[{"sx":150.15,"sy":288.6,"t":"Field emission limit"},{"sx":150.15,"sy":297.7,"t":"F=10"},{"sx":172.9,"sy":297.7,"t":"V m"}]},"mark":{"type":"text","font":"Liberation Serif","fontSize":12.5,"color":"#ff6633","align":"left","baseline":"middle"},"encoding":{"text":{"field":"t"}}},
{"data":{"values":[{"sx":168.35,"sy":295.75,"t":"10"},{"sx":187.2,"sy":295.5,"t":"-1"}]},"mark":{"type":"text","font":"Liberation Serif","fontSize":6.5,"color":"#ff6633","align":"left","baseline":"middle"},"encoding":{"text":{"field":"t"}}},
{"data":{"values":[{"sx":255.45,"sy":297,"t":"Particle"},{"sx":255.45,"sy":306.15,"t":"diameter"}]},"mark":{"type":"text","font":"Liberation Serif","fontSize":11.5,"color":"#222","align":"left","baseline":"middle"},"encoding":{"text":{"field":"t"}}},
{"data":{"values":[{"sx":262.6,"sy":321.75,"t":"1.70 µm"},{"sx":262.6,"sy":356.2,"t":"0.79 µm"},{"sx":262.6,"sy":390,"t":"0.37 µm"},{"sx":262.6,"sy":423.15,"t":"0.17 µm"},{"sx":262.6,"sy":456.95,"t":"0.08 µm"}]},"mark":{"type":"text","font":"Liberation Serif","fontSize":11.5,"color":"#222","align":"left","baseline":"middle"},"encoding":{"text":{"field":"t"}}},
{"data":{"values":[{"sx":83.85,"sy":426.4,"t":"const. particle charge Q=0.1 fC"}]},"mark":{"type":"text","font":"Liberation Serif","fontSize":12.5,"color":"#2244ff","align":"center","baseline":"middle","angle":25.5},"encoding":{"text":{"field":"t"}}}
]
}
]
}
